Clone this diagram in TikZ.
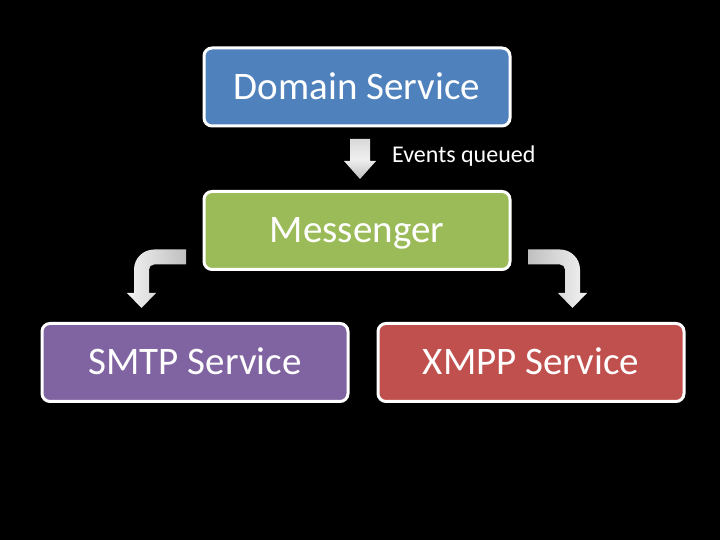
\documentclass[tikz,border=0pt]{standalone}
\usepackage{fontspec}
\setmainfont{Carlito}
\usetikzlibrary{positioning}
\definecolor{dsblue}{HTML}{4F81BD}
\definecolor{msggreen}{HTML}{9BBB59}
\definecolor{smtppurple}{HTML}{8064A2}
\definecolor{xmppred}{HTML}{C0504D}
\tikzstyle{service} = [rectangle, rounded corners=8pt, draw=white, line width=3pt,
minimum width=306pt, minimum height=78pt, inner sep=0pt, text=white,
font=\fontsize{39}{39}\selectfont, text height=25pt, text depth=0pt]
\tikzstyle{caption} = [text=white, inner sep=0pt, font=\fontsize{24}{24}\selectfont]
\newcommand{\bentarrow}[1]{ %
  % Shaded block arrow that leaves to the left, bends and points down.
  \shade[#1]
    (186,290.5) -- (154,290.5) .. controls (143,290.5) and (134,281.5) .. (134,270.5)
    -- (134,247) -- (127,247) -- (141.5,232) -- (156,247) -- (149,247)
    -- (149,270.5) .. controls (149,273.3) and (151.2,275.5) .. (154,275.5)
    -- (186,275.5) -- cycle;
}

\begin{document}
\begin{tikzpicture}[x=1pt, y=1pt]
  \fill[black] (0,0) rectangle (720,540);
  \node[service, fill=dsblue] (dom) at (357,453) {Domain Service};
  \node[service, fill=msggreen, below=62.5pt of dom] (msg) {Messenger};
  \node[service, fill=smtppurple, below=51pt of msg, xshift=-162pt] (smtp) {SMTP Service};
  \node[service, fill=xmppred, below=51pt of msg, xshift=174pt] (xmpp) {XMPP Service};

  \shade[top color=gray!30, bottom color=gray!50, middle color=gray!12]
    (350,401) -- (370,401) -- (370,379) -- (376,379) -- (360,361)
    -- (344,379) -- (350,379) -- cycle;
  \node[caption, anchor=base west] (evq) at (392,377) {Events queued};

  \bentarrow{left color=gray!10, right color=gray!50}
  \begin{scope}[xshift=714pt, xscale=-1]
    \bentarrow{left color=gray!50, right color=gray!10}
  \end{scope}
\end{tikzpicture}
\end{document}
